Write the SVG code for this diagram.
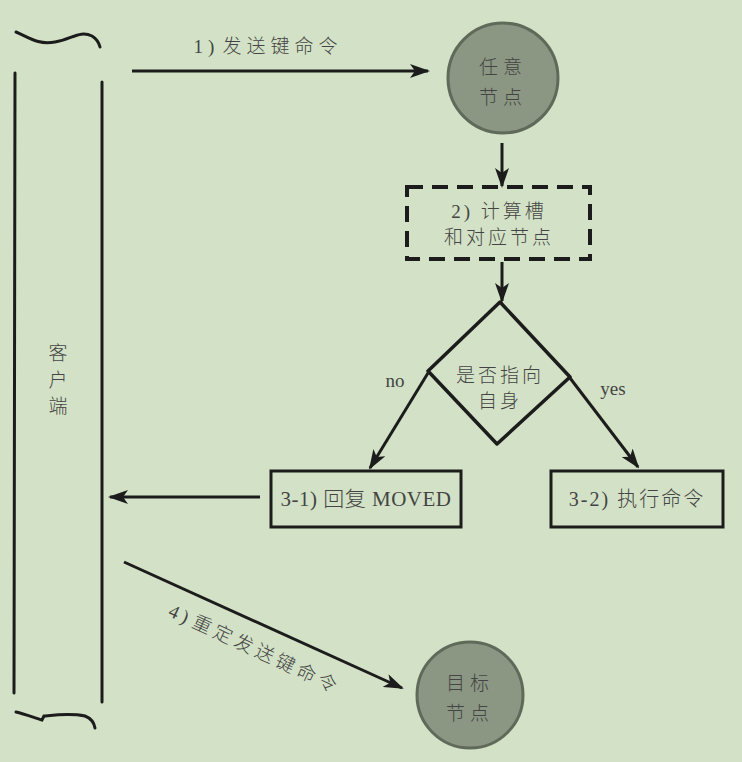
<svg xmlns="http://www.w3.org/2000/svg" width="742" height="762" viewBox="0 0 742 762">
<defs>
<marker id="arr" viewBox="0 0 20 14" refX="18" refY="7" markerWidth="20" markerHeight="14" markerUnits="userSpaceOnUse" orient="auto">
<path d="M0,0 L20,7 L0,14 L5,7 Z" fill="#1c1c1c"/>
</marker>
</defs>
<style>
.ln{stroke:#1c1c1c;stroke-width:3;fill:none;stroke-linecap:round}
.cn{stroke:#1c1c1c;stroke-width:3;fill:none;marker-end:url(#arr)}
.t{font-family:"Liberation Serif","Noto Sans CJK SC",serif;font-size:19px;font-weight:300;fill:#444;text-anchor:middle}
.c{fill:#8b9783;stroke:#5f6a5a;stroke-width:3}
.box{fill:none;stroke:#1c1c1c;stroke-width:3}
</style>
<rect width="742" height="762" fill="#d3e2c6"/>

<g id="client">
<path class="ln" d="M16,32 C30,38 38,45 55,42 C72,39 80,30 92,36 C97,39 99,43 100,47"/>
<line class="ln" x1="15" y1="73" x2="14" y2="693"/>
<line class="ln" x1="102" y1="82" x2="102" y2="702"/>
<path class="ln" d="M16,712 C25,714 35,718 42,720 L44,716 C55,715 70,713 85,716 C90,718 94,722 95,728"/>
<text class="t" x="58" y="360">客</text>
<text class="t" x="58" y="387">户</text>
<text class="t" x="58" y="413">端</text>
</g>

<g id="node-any">
<circle class="c" cx="503" cy="78" r="55"/>
<text class="t" x="503" y="74" style="letter-spacing:5px">任意</text>
<text class="t" x="503" y="104" style="letter-spacing:5px">节点</text>
</g>

<g id="node-calc">
<rect x="407" y="187" width="183" height="72" fill="none" stroke="#1c1c1c" stroke-width="4" stroke-dasharray="16 9"/>
<text class="t" x="499" y="218" style="letter-spacing:3px">2) 计算槽</text>
<text class="t" x="499" y="244" style="letter-spacing:3px">和对应节点</text>
</g>

<g id="node-decide">
<path d="M500,302 L570,377 L497,444 L428,371 Z" fill="none" stroke="#1c1c1c" stroke-width="3.5" stroke-linejoin="round"/>
<text class="t" x="500" y="382" style="letter-spacing:3px">是否指向</text>
<text class="t" x="500" y="408" style="letter-spacing:3px">自身</text>
</g>

<g id="node-moved">
<rect class="box" x="271" y="471" width="190" height="56"/>
<text class="t" x="366" y="506" style="font-size:21px;letter-spacing:0.5px">3-1) 回复 MOVED</text>
</g>

<g id="node-exec">
<rect class="box" x="551" y="471" width="172" height="56"/>
<text class="t" x="637" y="506" style="font-size:20px;letter-spacing:2px">3-2) 执行命令</text>
</g>

<g id="node-target">
<circle class="c" cx="470" cy="695" r="53"/>
<text class="t" x="470" y="690" style="letter-spacing:5px">目标</text>
<text class="t" x="470" y="720" style="letter-spacing:5px">节点</text>
</g>

<g id="connectors">
<line class="cn" x1="132" y1="71" x2="428" y2="71"/>
<line class="cn" x1="502" y1="143" x2="502" y2="186"/>
<line class="cn" x1="502" y1="262" x2="502" y2="301"/>
<line class="cn" x1="428" y1="373" x2="370" y2="468"/>
<line class="cn" x1="570" y1="378" x2="638" y2="467"/>
<line class="cn" x1="260" y1="497" x2="110" y2="497"/>
<line class="cn" x1="124" y1="562" x2="402" y2="688"/>
<text class="t" x="268" y="53" style="letter-spacing:5px">1)<tspan dx="3">发送键命令</tspan></text>
<text class="t" x="395" y="387">no</text>
<text class="t" x="613" y="395">yes</text>
<text class="t" x="0" y="0" style="letter-spacing:4px" transform="translate(252,655) rotate(25)">4)<tspan dx="2">重定发送键命令</tspan></text>
</g>
</svg>
